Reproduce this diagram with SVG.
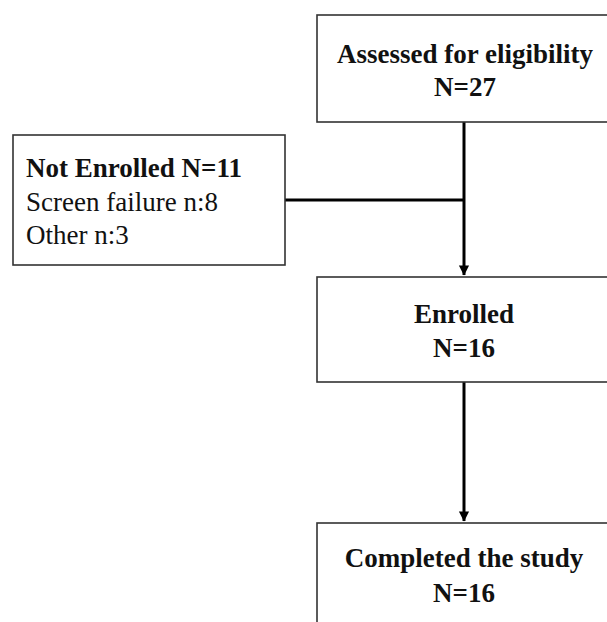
<svg xmlns="http://www.w3.org/2000/svg" width="607" height="622" viewBox="0 0 607 622">
<style>
.box{fill:#fff;stroke:#333;stroke-width:1.6}
.t{font-family:"Liberation Serif","Times New Roman",serif;font-size:27px;fill:#111}
.b{font-weight:bold}
.c{text-anchor:middle}
.conn{stroke:#000;stroke-width:3;fill:none}
</style>
<defs>
<marker id="ah" markerWidth="4" markerHeight="4" refX="3.2" refY="2" orient="auto" markerUnits="strokeWidth">
<path d="M0,0.3 L3.4,2 L0,3.7 Z" fill="#000"/>
</marker>
</defs>
<rect width="607" height="622" fill="#fff"/>
<g id="connectors">
<line class="conn" x1="464" y1="122" x2="464" y2="275" marker-end="url(#ah)"/>
<line class="conn" x1="285" y1="200" x2="465" y2="200"/>
<line class="conn" x1="464" y1="382" x2="464" y2="521" marker-end="url(#ah)"/>
</g>
<g id="assessed">
<rect class="box" x="317" y="15" width="300" height="107"/>
<text class="t b c" x="465" y="63">Assessed for eligibility</text>
<text class="t b c" x="465" y="96">N=27</text>
</g>
<g id="not-enrolled">
<rect class="box" x="13" y="135" width="272" height="130"/>
<text class="t b" x="26" y="177">Not Enrolled N=11</text>
<text class="t" x="26" y="211">Screen failure n:8</text>
<text class="t" x="26" y="244">Other n:3</text>
</g>
<g id="enrolled">
<rect class="box" x="317" y="277" width="300" height="105"/>
<text class="t b c" x="464" y="323">Enrolled</text>
<text class="t b c" x="464" y="357">N=16</text>
</g>
<g id="completed">
<rect class="box" x="317" y="523" width="300" height="120"/>
<text class="t b c" x="464" y="567">Completed the study</text>
<text class="t b c" x="464" y="602">N=16</text>
</g>
</svg>
